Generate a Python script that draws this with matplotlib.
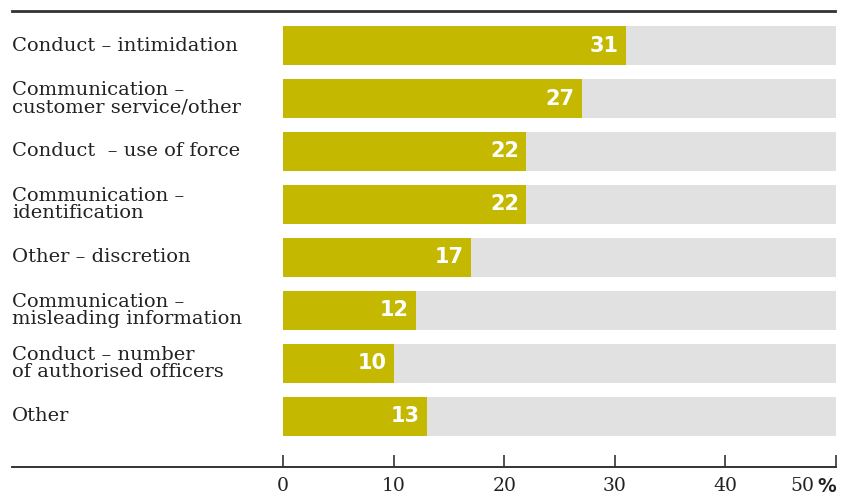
import matplotlib.pyplot as plt
from matplotlib.lines import Line2D
from matplotlib.transforms import blended_transform_factory, ScaledTranslation

categories = [
    "Conduct \u2013 intimidation",
    "Communication \u2013\ncustomer service/other",
    "Conduct  \u2013 use of force",
    "Communication \u2013\nidentification",
    "Other \u2013 discretion",
    "Communication \u2013\nmisleading information",
    "Conduct \u2013 number\nof authorised officers",
    "Other",
]
values = [31, 27, 22, 22, 17, 12, 10, 13]
full_scale = 50
ticks = [0, 10, 20, 30, 40, 50]
tick_labels = ["0", "10", "20", "30", "40", "50"]

olive = "#c4b800"
track = "#e1e1e1"
ink = "#222222"

fig = plt.figure(figsize=(8.41, 4.96), dpi=100)
ax = fig.add_axes([283 / 841, 1 - 467 / 496, 553 / 841, 456 / 496])

y = list(range(len(values)))
ax.barh(y, [full_scale] * len(values), height=0.74, color=track, zorder=1)
ax.barh(y, values, height=0.74, color=olive, zorder=2)

for yi, v in zip(y, values):
    ax.annotate(str(v), xy=(v, yi), xytext=(-5, 0), textcoords="offset points",
                ha="right", va="center", color="white", fontsize=15,
                fontweight="bold", family="DejaVu Sans", zorder=3)

ax.set_xlim(0, full_scale)
ax.set_ylim(7.953, -0.651)

for s in ax.spines.values():
    s.set_visible(False)
ax.set_yticks([])
ax.set_xticks(ticks)
ax.set_xticklabels(tick_labels, family="DejaVu Serif", fontsize=13.5, color=ink)
ax.tick_params(axis="x", direction="in", length=9, width=1.1, color=ink, pad=7)

# last value shifts left to make room for the percent sign
last = ax.get_xticklabels()[-1]
last.set_ha("right")
last.set_transform(last.get_transform()
                   + ScaledTranslation(-0.22, 0, fig.dpi_scale_trans))
ax.annotate("%", xy=(full_scale, 0), xycoords=("data", "axes fraction"),
            xytext=(0, -7), textcoords="offset points", ha="right", va="top",
            family="DejaVu Sans", fontweight="bold", fontsize=13.5, color=ink)

# category names sit at the left edge of the figure
trans = blended_transform_factory(fig.transFigure, ax.transData)
for yi, name in zip(y, categories):
    ax.text(12 / 841, yi, name, transform=trans, ha="left", va="center",
            family="DejaVu Serif", fontsize=14, color=ink, linespacing=0.95)

# rules across the top and along the bottom
fig.add_artist(Line2D([12 / 841, 835 / 841], [1 - 11 / 496] * 2,
                      color="#333333", lw=2.0))
fig.add_artist(Line2D([12 / 841, 836 / 841], [1 - 467 / 496] * 2,
                      color="#333333", lw=1.4))

fig.savefig("out.png", dpi=100)
